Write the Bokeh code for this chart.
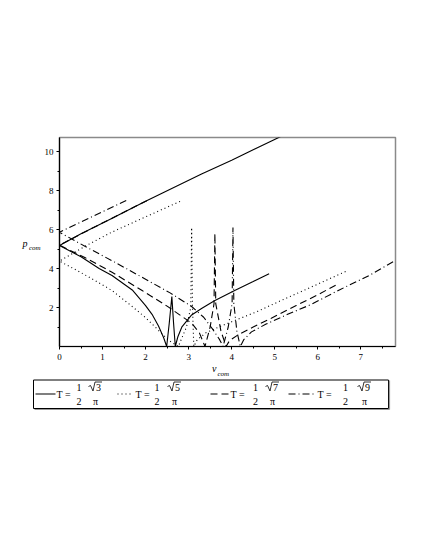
from bokeh.plotting import figure
from bokeh.layouts import column, row
from bokeh.models import Range1d, FixedTicker
from bokeh.embed import file_html
from bokeh.resources import INLINE
from bokeh.core.properties import value

# ---- data ----
# T = sqrt(3)/(2 pi)  solid
v_s = [5.3, 5.07, 4.0, 3.3, 2.0, 1.12, 0.5, 0.0, 0.5, 0.92, 1.22, 1.69, 2.0, 2.15, 2.3, 2.42, 2.49,
       2.55, 2.61, 2.65, 2.69, 2.75, 2.84, 3.07, 3.3, 3.6, 4.07, 4.5, 4.87]
p_s = [10.95, 10.7, 9.55, 8.85, 7.45, 6.46, 5.78, 5.18, 4.6, 4.0, 3.64, 2.9, 2.1, 1.65, 1.05, 0.45, 0.0,
       1.2, 2.56, 1.2, 0.0, 0.5, 0.99, 1.62, 1.95, 2.35, 2.87, 3.33, 3.73]
# T = sqrt(5)/(2 pi)  dotted
v_d = [2.8, 2.0, 1.2, 0.6, 0.0, 0.45, 0.85, 1.22, 1.69, 1.99, 2.2, 2.38, 2.55, 2.76,
       2.95, 3.05, 3.07, 3.09, 3.12, 3.2, 3.4, 3.7, 4.07, 4.6, 5.15, 5.9, 6.65]
p_d = [7.44, 6.65, 5.85, 5.15, 4.38, 3.85, 3.35, 2.87, 2.05, 1.5, 1.05, 0.65, 0.3, 0.0,
       1.0, 2.0, 6.1, 2.0, 0.0, 0.35, 0.7, 1.0, 1.33, 1.8, 2.36, 3.1, 3.85]
# T = sqrt(7)/(2 pi)  dashed
v_m = [2.03, 1.4, 0.7, 0.0, 0.6, 1.22, 1.92, 2.5, 3.07, 3.25, 3.38,
       3.5, 3.59, 3.61, 3.63, 3.75, 3.87, 3.95, 4.15, 4.5, 4.92, 5.5, 6.0, 6.46]
p_m = [7.48, 6.78, 6.0, 5.2, 4.55, 3.81, 2.87, 2.07, 1.2, 0.7, 0.0,
       1.0, 2.2, 5.8, 2.2, 0.8, 0.0, 0.3, 0.6, 1.0, 1.45, 2.1, 2.65, 3.2]
# T = sqrt(9)/(2 pi)  dash-dot
v_c = [1.55, 0.8, 0.0, 0.6, 1.22, 2.0, 2.57, 3.07, 3.35, 3.57, 3.72, 3.8,
       3.92, 4.01, 4.03, 4.05, 4.12, 4.2, 4.28, 4.46, 4.8, 5.3, 5.84, 6.5, 7.2, 7.8]
p_c = [7.49, 6.7, 5.86, 5.13, 4.4, 3.45, 2.75, 2.05, 1.5, 0.85, 0.35, 0.0,
       1.0, 2.2, 6.1, 2.2, 0.8, 0.0, 0.35, 0.75, 1.15, 1.65, 2.15, 2.9, 3.65, 4.41]

x_ticks = [0, 1, 2, 3, 4, 5, 6, 7]
y_ticks = [2, 4, 6, 8, 10]
radicands = ["3", "5", "7", "9"]

SERIF = "Liberation Serif"
dashes = ["solid", "1 3", "7 4", "7 3 1 3"]


def no_align(fig):
    try:
        fig.frame_align = False
    except Exception:
        pass


STRIP_W = 41
H_MAIN = 364

p = figure(width=425 - STRIP_W, height=H_MAIN, x_range=Range1d(0, 7.806), y_range=Range1d(0, 10.72),
           output_backend="svg", toolbar_location=None,
           min_border_left=57 - STRIP_W, min_border_right=30, min_border_top=137, min_border_bottom=H_MAIN - 346)
no_align(p)
p.xgrid.visible = False
p.ygrid.visible = False
p.outline_line_color = "#8a8a8a"
p.outline_line_width = 1.5

for xs, ys, d in [(v_s, p_s, dashes[0]), (v_d, p_d, dashes[1]), (v_m, p_m, dashes[2]), (v_c, p_c, dashes[3])]:
    p.line(xs, ys, line_color="black", line_width=1.1, line_dash=d)

p.xaxis.ticker = FixedTicker(ticks=x_ticks, minor_ticks=[t + 0.5 for t in x_ticks])
p.yaxis.ticker = FixedTicker(ticks=y_ticks, minor_ticks=[1, 3, 5, 7, 9])
for ax in (p.xaxis[0], p.yaxis[0]):
    ax.axis_line_color = "black"
    ax.axis_line_width = 1.2
    ax.major_tick_out = 3
    ax.major_tick_in = 0
    ax.minor_tick_out = 2
    ax.minor_tick_in = 0
    ax.major_label_text_font = SERIF
    ax.major_label_text_font_size = "9px"
    ax.major_label_text_color = "black"
p.xaxis[0].major_label_standoff = 4
p.yaxis[0].major_label_standoff = 3

# ---- left strip carrying the vertical-axis title (page-pixel coordinates) ----
left = figure(width=STRIP_W, height=H_MAIN, x_range=Range1d(0, STRIP_W), y_range=Range1d(H_MAIN, 0),
              output_backend="svg", toolbar_location=None, min_border=0,
              x_axis_type=None, y_axis_type=None)
no_align(left)
left.grid.visible = False
left.outline_line_color = None
left.text(x=[22], y=[243], text=["p"], text_font=value(SERIF), text_font_style="italic",
          text_font_size=value("10px"), text_baseline="middle", text_align="left", text_color="black")
left.text(x=[28.5], y=[247.5], text=["com"], text_font=value(SERIF), text_font_style="italic",
          text_font_size=value("7px"), text_baseline="middle", text_align="left", text_color="black")

# ---- bottom strip: horizontal-axis title + legend (page-pixel coordinates) ----
Y0 = H_MAIN
leg = figure(width=425, height=60, x_range=Range1d(0, 425), y_range=Range1d(Y0 + 60, Y0),
             output_backend="svg", toolbar_location=None, min_border=0,
             x_axis_type=None, y_axis_type=None)
no_align(leg)
leg.grid.visible = False
leg.outline_line_color = None
leg.text(x=[211.5], y=[368], text=["v"], text_font=value(SERIF), text_font_style="italic",
         text_font_size=value("10px"), text_baseline="middle", text_align="left", text_color="black")
leg.text(x=[217], y=[373], text=["com"], text_font=value(SERIF), text_font_style="italic",
         text_font_size=value("7px"), text_baseline="middle", text_align="left", text_color="black")

leg.quad(left=[33], right=[388], top=[379.5], bottom=[408], fill_color="white", line_color="black", line_width=1)
leg.line([34, 389], [409, 409], line_color="#999999", line_width=1.2)
leg.line([389, 389], [380, 409], line_color="#999999", line_width=1.2)

samples = [(35, 55), (117, 132), (210, 228), (288, 315)]
t_x = [56, 135, 230, 317]
frac_x = [78.5, 156.5, 255, 345]
rad_x = [88, 167, 265, 357]
yc = 393.5
for i in range(4):
    a, b = samples[i]
    leg.line([a, b], [yc, yc], line_color="black", line_width=1.1, line_dash=dashes[i])
    leg.text(x=[t_x[i]], y=[yc + 0.5], text=["T = "], text_font=value(SERIF), text_font_size=value("10px"),
             text_baseline="middle", text_align="left", text_color="black")
    leg.text(x=[frac_x[i], frac_x[i]], y=[386.5, 400.5], text=["1", "2"], text_font=value(SERIF),
             text_font_size=value("10px"), text_baseline="middle", text_align="center", text_color="black")
    r = rad_x[i]
    # radical sign with overline
    leg.line([r, r + 2, r + 4.5, r + 6.5, r + 13.5], [386, 385, 390.5, 381.5, 381.5],
             line_color="black", line_width=0.8)
    leg.text(x=[r + 10], y=[386.5], text=[radicands[i]], text_font=value(SERIF),
             text_font_size=value("10px"), text_baseline="middle", text_align="center", text_color="black")
    leg.text(x=[r + 7], y=[400.5], text=["π"], text_font=value(SERIF),
             text_font_size=value("10px"), text_baseline="middle", text_align="center", text_color="black")

layout = column(row(left, p, spacing=0), leg, spacing=0)
open("out.html", "w").write(file_html(layout, INLINE))
